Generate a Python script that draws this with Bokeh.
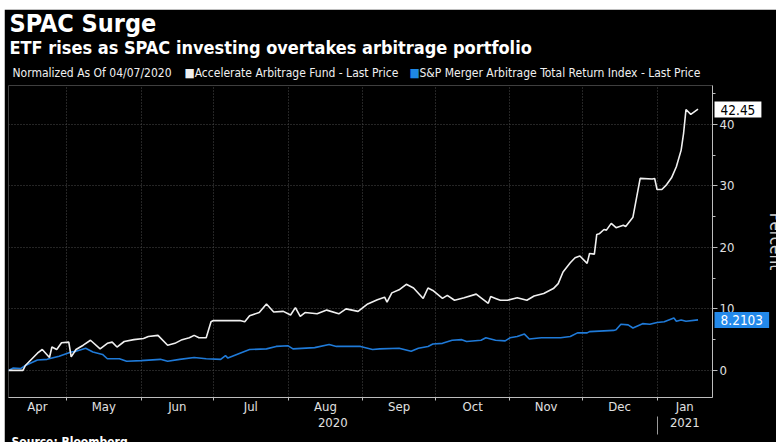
import pandas as pd
from bokeh.plotting import figure
from bokeh.models import (Range1d, FixedTicker, Spacer, CustomJSTickFormatter, DatetimeAxis, Title)
from bokeh.layouts import column, row
from bokeh.embed import file_html
from bokeh.resources import INLINE

# ---------------- data ----------------
aaf_name = "Accelerate Arbitrage Fund - Last Price"
aaf_dates = ["2020-04-07","2020-04-13","2020-04-14","2020-04-19","2020-04-21","2020-04-24","2020-04-25","2020-04-27","2020-04-29",
             "2020-05-02","2020-05-03","2020-05-05","2020-05-08","2020-05-11","2020-05-15","2020-05-18","2020-05-20","2020-05-22","2020-05-25","2020-05-29",
             "2020-06-02","2020-06-04","2020-06-08","2020-06-12","2020-06-15","2020-06-18","2020-06-21","2020-06-23","2020-06-25","2020-06-28","2020-06-30",
             "2020-07-01","2020-07-12","2020-07-14","2020-07-16","2020-07-20","2020-07-23","2020-07-26","2020-07-30",
             "2020-08-02","2020-08-04","2020-08-06","2020-08-08","2020-08-13","2020-08-17","2020-08-22","2020-08-25","2020-08-30",
             "2020-09-03","2020-09-07","2020-09-10","2020-09-11","2020-09-13","2020-09-16","2020-09-19","2020-09-22","2020-09-26","2020-09-28","2020-09-30",
             "2020-10-04","2020-10-06","2020-10-09","2020-10-13","2020-10-18","2020-10-20","2020-10-23","2020-10-24","2020-10-26","2020-10-28","2020-10-31",
             "2020-11-04","2020-11-08","2020-11-11","2020-11-15","2020-11-19","2020-11-21","2020-11-23","2020-11-26","2020-11-28","2020-11-30",
             "2020-12-03","2020-12-04","2020-12-06","2020-12-07","2020-12-08","2020-12-10","2020-12-11","2020-12-13","2020-12-15","2020-12-18","2020-12-19","2020-12-22","2020-12-25","2020-12-30","2020-12-31",
             "2021-01-01","2021-01-03","2021-01-05","2021-01-07","2021-01-09","2021-01-11","2021-01-12","2021-01-13","2021-01-15","2021-01-18"]
aaf_values = [0.0,0.0,0.8,2.8,3.4,2.1,3.8,3.4,4.5,
              4.6,2.2,3.4,4.1,4.9,3.5,4.4,4.6,3.8,4.7,5.0,
              5.2,5.5,5.7,4.1,4.4,5.0,5.3,5.7,5.3,5.3,7.9,
              8.1,8.1,7.9,8.9,9.4,10.8,9.5,9.6,
              9.0,10.2,8.8,9.4,9.2,9.8,9.2,10.0,9.6,
              10.8,11.5,11.9,11.1,12.6,13.1,14.0,13.4,11.7,13.4,13.0,
              11.7,12.2,11.4,11.8,12.4,11.8,10.9,12.0,11.7,11.4,11.4,
              11.8,11.4,12.1,12.5,13.3,14.1,16.0,17.5,18.3,18.6,
              17.4,19.0,18.9,22.1,22.2,22.9,22.8,23.9,23.2,23.6,23.4,24.9,31.2,31.1,31.2,
              29.4,29.4,30.2,31.3,33.1,35.8,38.5,42.4,41.6,42.45]

mna_name = "S&P Merger Arbitrage Total Return Index - Last Price"
mna_dates = ["2020-04-07","2020-04-09","2020-04-12","2020-04-14","2020-04-19","2020-04-23","2020-04-28",
             "2020-05-03","2020-05-05","2020-05-09","2020-05-12","2020-05-16","2020-05-18","2020-05-23","2020-05-26",
             "2020-06-01","2020-06-09","2020-06-12","2020-06-17","2020-06-23","2020-06-28",
             "2020-07-04","2020-07-06","2020-07-07","2020-07-12","2020-07-16","2020-07-23","2020-07-27",
             "2020-08-01","2020-08-03","2020-08-12","2020-08-18","2020-08-21","2020-08-31",
             "2020-09-05","2020-09-08","2020-09-16","2020-09-21","2020-09-24","2020-09-28","2020-09-30",
             "2020-10-04","2020-10-08","2020-10-12","2020-10-14","2020-10-20","2020-10-22","2020-10-26","2020-10-30",
             "2020-11-01","2020-11-04","2020-11-07","2020-11-09","2020-11-14","2020-11-22","2020-11-26","2020-11-29",
             "2020-12-03","2020-12-04","2020-12-14","2020-12-15","2020-12-17","2020-12-20","2020-12-22","2020-12-26","2020-12-29",
             "2021-01-01","2021-01-04","2021-01-08","2021-01-09","2021-01-11","2021-01-13","2021-01-18"]
mna_values = [0.0,0.4,0.3,0.8,1.7,1.8,2.3,
              3.0,3.1,3.6,3.0,2.6,1.9,1.9,1.5,
              1.6,1.8,1.5,1.8,2.1,1.9,
              1.8,2.4,2.0,2.8,3.4,3.5,3.9,
              4.0,3.5,3.7,4.2,3.9,3.9,
              3.4,3.5,3.6,3.1,3.6,3.9,4.3,
              4.4,4.9,5.0,4.7,4.9,5.3,4.9,4.8,
              5.3,5.5,5.9,5.1,5.3,5.3,5.5,6.1,
              6.1,6.3,6.5,6.6,7.5,7.4,6.9,7.6,7.5,
              7.8,7.9,8.5,8.0,8.2,8.0,8.2103]

title_text = "SPAC Surge"
subtitle_text = "ETF rises as SPAC investing overtakes arbitrage portfolio"
norm_note = "Normalized As Of 04/07/2020"
source_text = "Source: Bloomberg"
axis_title = "Percent"
month_names = ["Apr", "May", "Jun", "Jul", "Aug", "Sep", "Oct", "Nov", "Dec", "Jan"]
month_starts = ["2020-04-01", "2020-05-01", "2020-06-01", "2020-07-01", "2020-08-01", "2020-09-01",
                "2020-10-01", "2020-11-01", "2020-12-01", "2021-01-01", "2021-02-01"]
year_names = ["2020", "2021"]
year_starts = ["2020-01-01", "2021-01-01", "2022-01-01"]
y_major = [0, 10, 20, 30, 40]
y_minor = [5, 15, 25, 35, 45]

# ---------------- layout / style constants ----------------
X_START = pd.Timestamp("2020-04-07")
X_END = pd.Timestamp("2021-01-24")
Y_START, Y_END = -4.4, 46.3
OFF_X, OFF_Y = 4, 9                 # white page strip (left, top)
FRAME_W, FRAME_H = 704, 312
BORDER_L, BORDER_T = 4, 76
FRAME_LEFT = OFF_X + BORDER_L       # page x of the frame's left edge
FRAME_TOP = OFF_Y + BORDER_T        # page y of the frame's top edge
FRAME_BOTTOM = FRAME_TOP + FRAME_H
AXES_BELOW_H = 32                   # month row + year row
ASC = 0.928                         # font ascent / size
LINE_H = 1.164                      # font box height / size

FONT = "DejaVu Sans Condensed"
WHITE = "#f0f0f0"
BLUE = "#1f7ad8"
BLUE_BOX = "#2389ea"
BLUE_KEY = "#1e88e5"
GRID = "#4a4a4a"
AXIS = "#bdbdbd"
TICK_TXT = "#e0e0e0"


def ms(d):
    return pd.Timestamp(d).value / 1e6


p = figure(frame_width=FRAME_W, frame_height=FRAME_H, x_axis_type="datetime",
           y_axis_location="right", title=None,
           x_range=Range1d(ms(X_START), ms(X_END)), y_range=Range1d(Y_START, Y_END),
           output_backend="svg", toolbar_location=None,
           min_border_left=BORDER_L, min_border_right=0, min_border_top=BORDER_T, min_border_bottom=0,
           background_fill_color="black", border_fill_color="black", outline_line_color=None)

p.line(pd.to_datetime(mna_dates), mna_values, line_color=BLUE, line_width=1.6)
p.line(pd.to_datetime(aaf_dates), aaf_values, line_color=WHITE, line_width=1.6)

lo, hi = ms(X_START), ms(X_END)


def span_mids(bounds):
    out = []
    for a, b in zip(bounds[:-1], bounds[1:]):
        a2, b2 = max(a, lo), min(b, hi)
        out.append((a2 + b2) / 2)
    return out


def name_formatter(pos, names):
    return CustomJSTickFormatter(args=dict(pos=pos, names=names), code="""
        let best = 0, bd = Infinity;
        for (let i = 0; i < pos.length; i++) {
            const d = Math.abs(pos[i] - tick);
            if (d < bd) { bd = d; best = i; }
        }
        return names[best];
    """)


# ---- month axis ----
starts_ms = [ms(m) for m in month_starts]
month_mids = span_mids(starts_ms)
inner_starts = [s for s in starts_ms if lo < s < hi]
xa = p.xaxis[0]
xa.ticker = FixedTicker(ticks=month_mids, minor_ticks=inner_starts)
xa.formatter = name_formatter(month_mids, month_names)
xa.major_tick_line_color = None
xa.major_tick_out = 0
xa.major_tick_in = 0
xa.minor_tick_out = 3
xa.minor_tick_in = 0
xa.minor_tick_line_color = AXIS
xa.axis_line_color = AXIS
xa.major_label_text_color = TICK_TXT
xa.major_label_text_font = FONT
xa.major_label_text_font_size = "13px"
xa.major_label_standoff = -2

# ---- year axis (second row) ----
yr_ms = [ms(y) for y in year_starts]
year_mids = span_mids(yr_ms)
yr_breaks = [s for s in yr_ms if lo < s < hi]
year_axis = DatetimeAxis(ticker=FixedTicker(ticks=year_mids, minor_ticks=yr_breaks),
                         formatter=name_formatter(year_mids, year_names))
year_axis.axis_line_color = None
year_axis.major_tick_line_color = None
year_axis.major_tick_out = 0
year_axis.major_tick_in = 0
year_axis.minor_tick_line_color = "#9a9a9a"
year_axis.minor_tick_out = 18
year_axis.minor_tick_in = 0
year_axis.major_label_text_color = TICK_TXT
year_axis.major_label_text_font = FONT
year_axis.major_label_text_font_size = "13px"
year_axis.major_label_standoff = -17
p.add_layout(year_axis, "below")

# ---- y axis on the right ----
ya = p.yaxis[0]
ya.ticker = FixedTicker(ticks=y_major, minor_ticks=y_minor)
ya.major_tick_out = 5
ya.major_tick_in = 0
ya.minor_tick_out = 3
ya.minor_tick_in = 0
ya.major_tick_line_color = AXIS
ya.minor_tick_line_color = AXIS
ya.axis_line_color = AXIS
ya.major_label_text_color = TICK_TXT
ya.major_label_text_font = FONT
ya.major_label_text_font_size = "13px"
ya.major_label_standoff = 2
ya.axis_label = axis_title
ya.axis_label_text_font = FONT
ya.axis_label_text_font_style = "normal"
ya.axis_label_text_font_size = "17px"
ya.axis_label_text_color = "#d0d0d0"
ya.axis_label_standoff = 29

# ---- grids ----
p.xgrid.ticker = FixedTicker(ticks=inner_starts)
for g in (p.xgrid[0], p.ygrid[0]):
    g.grid_line_color = GRID
    g.grid_line_dash = "1 2"
    g.grid_line_width = 1

# ---- texts: zero-height titles in the bottom panel, shifted to their place ----
B_EST = FRAME_BOTTOM + AXES_BELOW_H   # page y of the slot boundary after the axes


def place(t, x, top, size, color="#ffffff", bold=False, bg=None):
    s = round(2 * (top - B_EST))
    tt = Title(text=t, align="left", vertical_align="top", standoff=s, offset=x - FRAME_LEFT,
               text_font=FONT, text_font_size=f"{size}px",
               text_font_style="bold" if bold else "normal", text_color=color)
    if bg is not None:
        tt.background_fill_color = bg
        tt.background_fill_alpha = 1.0
    p.add_layout(tt, "below")


def place_baseline(t, x, baseline, size, **kw):
    place(t, x, baseline - ASC * size, size, **kw)


place_baseline(title_text, 9, 31.5, 25, bold=True)
place_baseline(subtitle_text, 9, 53, 18, bold=True)
place_baseline(norm_note, 12, 76.5, 12, color=WHITE)
place_baseline("\u25A0" + aaf_name, 184, 76.5, 12, color=WHITE)
place_baseline("\u25A0", 409, 76.5, 12, color=BLUE_KEY)
place_baseline(mna_name, 419, 76.5, 12, color=WHITE)

# last-value callouts beside the right axis, centred on each series' last value
ppu = FRAME_H / (Y_END - Y_START)
CALL_SIZE = 13.5
for v, lab, bg, fg in [(aaf_values[-1], f"{aaf_values[-1]:.2f}", "#ffffff", "#000000"),
                       (mna_values[-1], f"{mna_values[-1]:.4f}", BLUE_BOX, "#ffffff")]:
    yc = FRAME_TOP + (Y_END - v) * ppu
    place("\u2002" + lab + "\u2002", FRAME_LEFT + FRAME_W + 2, yc - LINE_H * CALL_SIZE / 2, CALL_SIZE,
          color=fg, bg=bg)

# source line last: it is the only one that takes real height in the panel
place_baseline(source_text, 11, 445.5, 12, bold=True)

# invisible filler so the black canvas reaches the bottom of the window
p.add_layout(Title(text=" ", standoff=40, text_font_size="12px"), "below")

layout = column(Spacer(height=OFF_Y), row(Spacer(width=OFF_X), p))
html = file_html(layout, INLINE, title="SPAC Surge")
html = html.replace("</head>", "<style>html,body{margin:0;padding:0;overflow:hidden;}</style></head>", 1)
open("out.html", "w").write(html)
